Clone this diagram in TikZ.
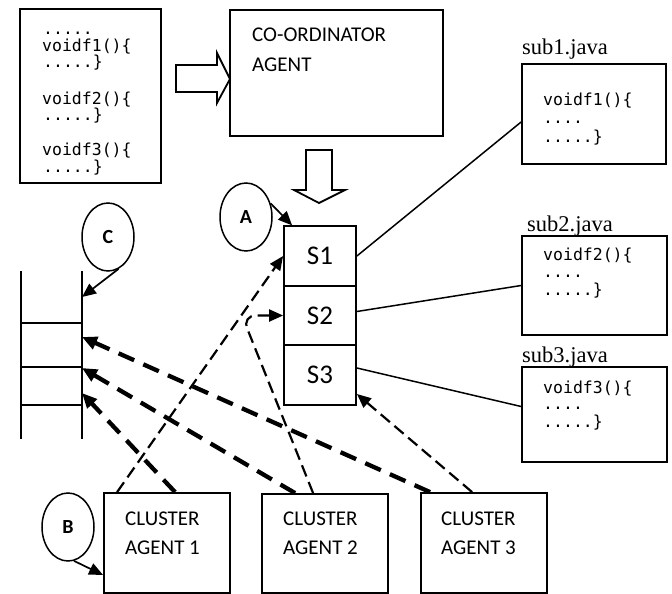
\documentclass[tikz,border=0pt]{standalone}
\usepackage{fontspec}
\setmainfont{Carlito}
\newfontfamily\codefont{DejaVu Sans Mono}
\newfontfamily\filefont{Liberation Serif}
\usetikzlibrary{arrows.meta,shapes.geometric}

\tikzset{
  frame/.style={draw, line width=1.8pt, inner sep=0pt},
  bubble/.style={draw, ellipse, line width=1.5pt, inner sep=0pt,
    minimum width=52pt, minimum height=68pt,
    font=\fontsize{20}{22}\selectfont\bfseries},
  cell/.style={frame, minimum width=72pt, minimum height=59.5pt,
    font=\fontsize{27}{30}\selectfont},
  label/.style={anchor=base west, inner sep=0pt, font=\fontsize{21}{24}\selectfont},
  code/.style={anchor=base west, inner sep=0pt, font=\codefont\fontsize{16.5}{18}\selectfont},
  fname/.style={anchor=base west, inner sep=0pt, font=\filefont\fontsize{22.5}{25}\selectfont},
  tip/.style={-{Triangle[length=14pt,width=12pt]}},
  pointer/.style={tip, line width=1.7pt},
  thinlink/.style={tip, line width=2.2pt, dash pattern=on 12pt off 6pt},
  thicklink/.style={-{Triangle[length=15pt,width=13pt]}, line width=4.3pt,
    dash pattern=on 17pt off 10pt},
  wire/.style={line width=1.5pt},
  hollow/.style={draw, line width=1.8pt, fill=white, line join=miter}
}

\begin{document}
\begin{tikzpicture}[x=1pt,y=-1pt]
\useasboundingbox (0,0) rectangle (672,594);

% source file with the three methods
\node[frame, minimum width=141pt, minimum height=174pt] (src) at (90.5,96) {};
\node[code] (s0) at (43,35) {.....};
\node[code] (s1) at (42,52) {voidf1()\{};
\node[code] (s2) at (43,68) {.....\}};
\node[code] (s3) at (42,104) {voidf2()\{};
\node[code] (s4) at (43,120) {.....\}};
\node[code] (s5) at (42,155) {voidf3()\{};
\node[code] (s6) at (43,172) {.....\}};

% co-ordinator agent
\node[frame, minimum width=213pt, minimum height=126pt] (coord) at (336.5,73) {};
\node[label] (coordA) at (252,42) {CO-ORDINATOR};
\node[label] (coordB) at (252,71) {AGENT};

% block arrows
\draw[hollow] (176,65) -- (217,65) -- (217,53) -- (230,79) -- (217,103)
  -- (217,92) -- (176,92) -- cycle;
\draw[hollow] (306,150) -- (332,150) -- (332,190) -- (345,190) -- (319,203)
  -- (294,190) -- (306,190) -- cycle;

% stack of sub-tasks
\node[cell] (S1) at (320,256) {S1};
\node[cell] (S2) at (320,315.5) {S2};
\node[cell] (S3) at (320,375) {S3};

% generated sub files
\node[frame, minimum width=144pt, minimum height=100pt] (sub1) at (594,114) {};
\node[fname] (sub1n) at (522,55) {sub1.java};
\node[code] (c11) at (543,106) {voidf1()\{};
\node[code] (c12) at (543,123) {....};
\node[code] (c13) at (543,142) {.....\}};

\node[frame, minimum width=145pt, minimum height=99pt] (sub2) at (594.5,285.5) {};
\node[fname] (sub2n) at (527,231) {sub2.java};
\node[code] (c21) at (543,260) {voidf2()\{};
\node[code] (c22) at (543,277) {....};
\node[code] (c23) at (543,295) {.....\}};

\node[frame, minimum width=145pt, minimum height=95pt] (sub3) at (594.5,414.5) {};
\node[fname] (sub3n) at (522,362) {sub3.java};
\node[code] (c31) at (543,393) {voidf3()\{};
\node[code] (c32) at (543,409) {....};
\node[code] (c33) at (543,427) {.....\}};

\draw[wire] (S1.east) -- ([yshift=-8pt]sub1.west);
\draw[wire] ([yshift=4pt]S2.east) -- (sub2.west);
\draw[wire] ([yshift=7pt]S3.east) -- ([yshift=8pt]sub3.west);

% result ladder
\coordinate (L1) at (21,271);
\coordinate (L2) at (21,439);
\coordinate (R1) at (82,271);
\coordinate (R2) at (82,439);
\draw[line width=1.5pt] (L1) -- (L2) (R1) -- (R2);
\draw[line width=1.5pt] (21,323) -- (82,323) (21,367) -- (82,367) (21,405) -- (82,405);
\coordinate (Rc) at (82,297);
\coordinate (Ra) at (82,337);
\coordinate (Rb) at (82,368);
\coordinate (Rd) at (82,393);

% cluster agents
\node[frame, minimum width=126pt, minimum height=100pt] (CA1) at (167,543) {};
\node[frame, minimum width=126pt, minimum height=99pt] (CA2) at (325,543.5) {};
\node[frame, minimum width=126pt, minimum height=100pt] (CA3) at (484,543) {};
\node[label] (t1a) at (125,525) {CLUSTER};
\node[label] (t1b) at (125,554) {AGENT 1};
\node[label] (t2a) at (283,525) {CLUSTER};
\node[label] (t2b) at (283,554) {AGENT 2};
\node[label] (t3a) at (441,525) {CLUSTER};
\node[label] (t3b) at (441,554) {AGENT 3};

% markers
\node[bubble] (A) at (246,217) {A};
\node[bubble] (C) at (108,237) {C};
\node[bubble] (B) at (68,527) {B};
\draw[pointer] (A.29) -- ([xshift=9pt]S1.north west);
\draw[pointer] (C.-72) -- (Rc);
\draw[pointer] (B.-80) -- ([yshift=-32pt]CA1.west);

% requests from the cluster agents
\coordinate (bend) at (242,315.5);
\draw[thinlink] ([xshift=14pt]CA1.north west) -- (S1.west);
\draw[thinlink, rounded corners=14pt] ([xshift=52pt]CA2.north west) -- (bend) -- (S2.west);
\draw[thinlink] ([xshift=52pt]CA3.north west) -- ([yshift=-19pt]S3.east);

% results returned to the ladder
\draw[thicklink] ([xshift=72pt]CA1.north west) -- (Rd);
\draw[thicklink] ([xshift=34pt]CA2.north west) -- (Rb);
\draw[thicklink] ([xshift=10pt]CA3.north west) -- (Ra);
\end{tikzpicture}
\end{document}
